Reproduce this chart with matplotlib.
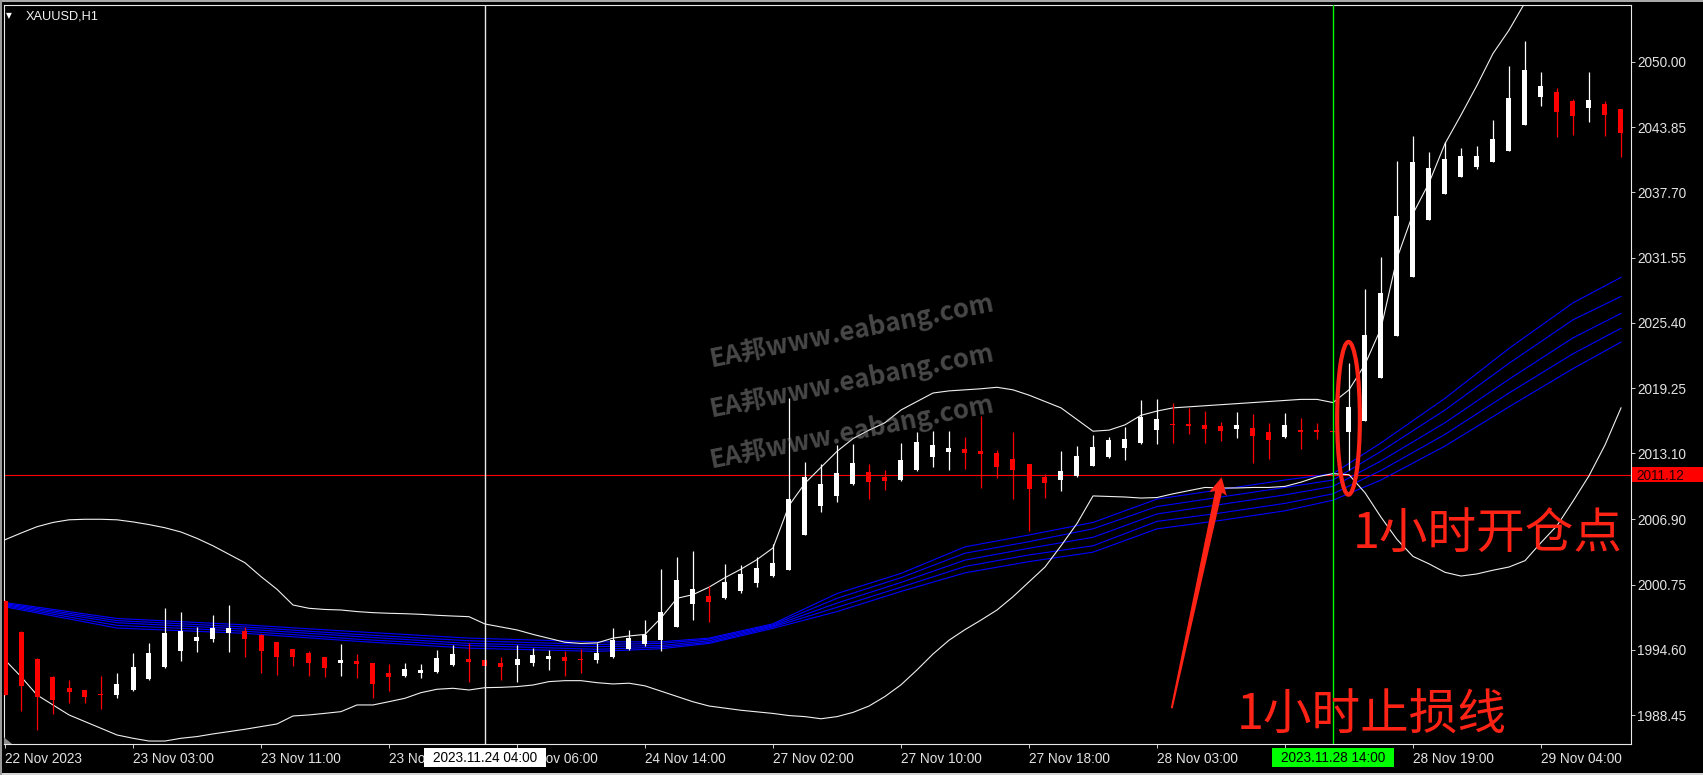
import numpy as np
import matplotlib
matplotlib.use('Agg')
import matplotlib.pyplot as plt
from matplotlib.patches import Ellipse, Polygon, Rectangle
from matplotlib.transforms import IdentityTransform, blended_transform_factory

W, H, DPI = 1703, 775, 100

# H1 candles, XAUUSD, 22 Nov 19:00 .. 29 Nov 08:00 (102 bars)
opens = [1999.23, 1996.31, 1993.73, 1992.04, 1991.03, 1990.81, 1990.40, 1990.34, 1990.81, 1991.85,
         1992.95, 1994.52, 1995.43, 1995.59, 1996.15, 1996.37, 1996.00, 1995.31, 1994.65, 1994.33,
         1993.89, 1993.33, 1993.55, 1993.33, 1992.38, 1992.16, 1992.45, 1992.54, 1993.17, 1993.74,
         1993.64, 1993.39, 1993.17, 1993.39, 1993.74, 1993.89, 1993.70, 1993.64, 1993.89, 1994.64,
         1995.14, 1995.52, 1996.71, 1998.91, 1999.67, 1999.45, 2000.17, 2000.87, 2001.56, 2002.12,
         2005.42, 2008.15, 2009.10, 2010.23, 2011.39, 2010.86, 2010.60, 2011.55, 2012.80, 2013.28,
         2013.50, 2013.34, 2013.12, 2012.58, 2012.11, 2010.92, 2010.60, 2010.98, 2011.96, 2012.74,
         2013.59, 2014.06, 2015.32, 2015.85, 2015.85, 2015.79, 2015.69, 2015.41, 2015.54, 2015.16,
         2014.68, 2015.31, 2015.31, 2015.20, 2015.15, 2016.19, 2020.24, 2024.17, 2029.76, 2035.10,
         2037.55, 2039.19, 2040.13, 2040.54, 2041.61, 2044.06, 2046.67, 2047.20, 2046.35, 2045.63,
         2046.04, 2045.54]
highs = [1999.30, 1996.40, 1993.80, 1992.10, 1991.75, 1990.85, 1992.13, 1992.38, 1994.33, 1995.21,
         1998.54, 1998.16, 1996.75, 1997.88, 1998.82, 1996.72, 1996.05, 1995.35, 1994.70, 1994.52,
         1993.95, 1995.12, 1994.21, 1993.40, 1993.26, 1993.39, 1993.23, 1994.58, 1995.05, 1995.21,
         1993.70, 1993.89, 1995.05, 1994.74, 1994.58, 1994.49, 1994.68, 1995.21, 1996.62, 1996.46,
         1997.41, 2002.21, 2003.37, 2003.91, 2000.61, 2002.69, 2002.59, 2003.38, 2004.54, 2018.30,
         2012.33, 2012.11, 2013.90, 2014.00, 2012.11, 2011.55, 2014.06, 2015.10, 2015.22, 2015.22,
         2014.63, 2016.64, 2013.43, 2015.16, 2012.15, 2011.14, 2013.34, 2013.81, 2014.85, 2014.69,
         2015.57, 2018.15, 2018.21, 2017.83, 2017.36, 2017.11, 2016.10, 2016.98, 2016.83, 2016.01,
         2016.88, 2016.41, 2015.94, 2015.30, 2021.60, 2028.57, 2031.65, 2040.66, 2043.02, 2041.55,
         2042.49, 2041.86, 2042.08, 2044.53, 2049.62, 2052.01, 2049.02, 2047.51, 2046.51, 2049.02,
         2046.32, 2045.60]
lows = [1990.30, 1988.86, 1987.04, 1988.55, 1989.62, 1989.62, 1989.02, 1990.09, 1990.75, 1991.75,
        1992.90, 1993.58, 1994.43, 1995.31, 1994.43, 1993.95, 1992.38, 1992.23, 1993.11, 1992.16,
        1992.07, 1992.16, 1991.97, 1990.03, 1990.75, 1992.07, 1991.97, 1992.45, 1993.07, 1991.60,
        1993.05, 1991.75, 1991.60, 1993.11, 1992.70, 1992.16, 1992.45, 1993.39, 1993.79, 1994.58,
        1994.95, 1994.51, 1996.71, 1997.41, 1997.25, 1999.36, 1999.99, 2000.55, 2001.49, 2002.12,
        2005.42, 2007.62, 2008.56, 2010.13, 2008.78, 2009.66, 2010.54, 2011.48, 2011.86, 2011.55,
        2011.61, 2009.82, 2010.76, 2008.78, 2005.83, 2008.88, 2009.60, 2010.92, 2011.92, 2012.65,
        2012.49, 2014.00, 2013.97, 2014.12, 2014.91, 2014.12, 2014.28, 2014.53, 2012.18, 2012.58,
        2014.53, 2013.49, 2014.43, 2015.00, 2011.54, 2016.19, 2020.18, 2024.17, 2029.76, 2035.10,
        2037.55, 2039.13, 2039.88, 2040.54, 2041.61, 2044.06, 2045.85, 2042.90, 2043.12, 2044.37,
        2043.05, 2041.01]
closes = [1990.34, 1991.19, 1990.18, 1989.87, 1990.62, 1990.12, 1990.31, 1991.38, 1992.95, 1994.27,
          1996.22, 1996.37, 1995.78, 1996.62, 1996.69, 1995.62, 1994.52, 1993.95, 1993.95, 1993.39,
          1992.85, 1993.64, 1993.23, 1991.38, 1992.01, 1992.76, 1992.70, 1993.80, 1994.21, 1993.48,
          1993.11, 1993.01, 1993.74, 1994.11, 1994.02, 1993.55, 1993.61, 1994.27, 1995.52, 1995.74,
          1995.99, 1998.13, 2001.17, 2000.33, 1999.13, 2001.02, 2001.75, 2002.34, 2002.81, 2008.81,
          2010.92, 2010.20, 2011.30, 2012.24, 2010.39, 2010.54, 2012.49, 2014.22, 2013.90, 2013.59,
          2013.18, 2013.02, 2011.86, 2011.55, 2009.73, 2010.35, 2011.45, 2012.90, 2013.75, 2014.38,
          2014.44, 2016.57, 2016.32, 2015.76, 2015.73, 2015.41, 2015.22, 2015.79, 2014.75, 2014.38,
          2015.78, 2015.12, 2015.12, 2015.10, 2017.45, 2024.27, 2028.19, 2035.48, 2040.54, 2039.97,
          2040.82, 2041.17, 2041.17, 2042.71, 2046.57, 2049.24, 2047.73, 2045.32, 2044.94, 2046.41,
          2045.00, 2043.27]

# Bollinger bands (upper / lower), one value per bar
upper_band = [2004.97, 2005.60, 2006.20, 2006.60, 2006.85, 2006.90, 2006.90, 2006.85, 2006.65, 2006.40,
              2006.10, 2005.70, 2005.10, 2004.40, 2003.60, 2002.80, 2001.50, 2000.30, 1998.82, 1998.51,
              1998.40, 1998.35, 1998.20, 1998.10, 1998.04, 1998.00, 1997.94, 1997.85, 1997.78, 1997.72,
              1997.03, 1996.75, 1996.47, 1996.05, 1995.68, 1995.31, 1995.20, 1995.25, 1995.70, 1995.90,
              1996.05, 1997.60, 1999.45, 1999.80, 2000.50, 2001.40, 2002.20, 2003.10, 2004.20, 2008.20,
              2010.30, 2011.80, 2013.30, 2014.50, 2015.30, 2016.00, 2017.20, 2018.00, 2018.80, 2019.00,
              2019.10, 2019.20, 2019.34, 2019.10, 2018.60, 2018.00, 2017.40, 2016.30, 2015.20, 2015.30,
              2015.80, 2016.70, 2017.10, 2017.40, 2017.50, 2017.60, 2017.70, 2017.80, 2017.90, 2018.00,
              2018.10, 2018.20, 2018.20, 2017.90, 2019.10, 2021.50, 2024.90, 2031.50, 2035.70, 2038.60,
              2042.30, 2045.00, 2047.80, 2050.80, 2053.00, 2055.60, 2058.00, 2060.00, 2061.50, 2062.50,
              2063.00, 2063.50]
lower_band = [1993.64, 1992.07, 1990.34, 1989.40, 1988.46, 1987.83, 1987.20, 1986.57, 1986.26, 1986.00,
              1986.00, 1986.26, 1986.42, 1986.67, 1986.89, 1987.11, 1987.36, 1987.61, 1988.36, 1988.46,
              1988.61, 1988.77, 1989.40, 1989.40, 1989.71, 1990.03, 1990.56, 1990.88, 1990.97, 1990.81,
              1991.03, 1991.06, 1991.13, 1991.28, 1991.60, 1991.69, 1991.69, 1991.50, 1991.38, 1991.45,
              1991.20, 1990.70, 1990.20, 1989.70, 1989.30, 1989.10, 1988.90, 1988.75, 1988.60, 1988.40,
              1988.30, 1988.10, 1988.30, 1988.70, 1989.30, 1990.20, 1991.30, 1992.70, 1994.20, 1995.50,
              1996.50, 1997.40, 1998.35, 1999.60, 2001.00, 2002.40, 2004.40, 2006.50, 2009.10, 2009.05,
              2009.00, 2008.90, 2008.95, 2009.30, 2009.60, 2009.90, 2009.85, 2009.85, 2009.90, 2009.90,
              2010.00, 2010.40, 2010.90, 2011.20, 2011.10, 2009.40, 2007.10, 2005.00, 2003.40, 2002.70,
              2001.90, 2001.55, 2001.75, 2002.10, 2002.40, 2003.00, 2004.70, 2006.30, 2008.60, 2011.00,
              2013.90, 2017.40]

# moving-average ribbon, read at these bars
ribbon_bars = [0, 7, 15, 22, 29, 37, 41, 44, 48, 52, 56, 60, 64, 68, 72, 76, 80, 83, 86, 90, 94, 98, 101]
ribbon_1 = [1999.05, 1997.55, 1996.95, 1996.30, 1995.70, 1995.35, 1995.35, 1995.70, 1997.05, 1999.90, 2001.80, 2004.30,
            2005.42, 2006.60, 2008.80, 2009.70, 2010.60, 2011.20, 2014.10, 2018.30, 2023.00, 2027.30, 2029.70]
ribbon_2 = [1998.95, 1997.35, 1996.75, 1996.05, 1995.45, 1995.10, 1995.20, 1995.60, 1996.95, 1999.45, 2001.40, 2003.70,
            2004.79, 2006.00, 2008.10, 2009.00, 2009.90, 2010.60, 2013.30, 2017.20, 2021.60, 2025.70, 2027.90]
ribbon_3 = [1998.85, 1997.15, 1996.55, 1995.85, 1995.20, 1994.90, 1995.00, 1995.45, 1996.85, 1999.00, 2000.95, 2003.05,
            2004.17, 2005.20, 2007.40, 2008.30, 2009.20, 2010.00, 2012.40, 2016.00, 2020.10, 2024.00, 2026.30]
ribbon_4 = [1998.75, 1996.90, 1996.35, 1995.60, 1995.00, 1994.65, 1994.85, 1995.30, 1996.75, 1998.60, 2000.50, 2002.45,
            2003.54, 2004.40, 2006.70, 2007.50, 2008.40, 2009.30, 2011.50, 2014.90, 2018.80, 2022.50, 2024.90]
ribbon_5 = [1998.65, 1996.65, 1996.15, 1995.40, 1994.75, 1994.45, 1994.70, 1995.20, 1996.62, 1998.20, 2000.10, 2001.85,
            2002.91, 2003.80, 2006.00, 2006.80, 2007.70, 2008.70, 2010.60, 2013.80, 2017.50, 2021.10, 2023.60]

price_ticks = [2050.00, 2043.85, 2037.70, 2031.55, 2025.40, 2019.25, 2013.10, 2006.90, 2000.75, 1994.60, 1988.45]
time_tick_bars = [0, 8, 16, 24, 32, 40, 48, 56, 64, 72, 80, 88, 96]
time_tick_labels = ['22 Nov 2023', '23 Nov 03:00', '23 Nov 11:00', '23 Nov 19:00', '24 Nov 06:00',
                    '24 Nov 14:00', '27 Nov 02:00', '27 Nov 10:00', '27 Nov 18:00', '28 Nov 03:00',
                    '28 Nov 11:00', '28 Nov 19:00', '29 Nov 04:00']

last_price = 2011.12
cross_bar, cross_label = 30, '2023.11.24 04:00'
entry_bar, entry_label = 83, '2023.11.28 14:00'

entry_text = '1小时开仓点'
stop_text = '1小时止损线'
watermark = 'EA邦www.eabang.com'

RED = '#ff2316'
AXIS_TXT = '#e2e2e2'
CJK = ['Noto Sans CJK SC', 'DejaVu Sans']
UI = 'Liberation Sans'

fig = plt.figure(figsize=(W / DPI, H / DPI), dpi=DPI, facecolor='black')
ax = fig.add_axes([4 / W, (H - 744) / H, (1631 - 4) / W, (744 - 5) / H])
ax.set_facecolor('black')
ax.set_xlim(-0.0625, 101.625)
ax.set_ylim(1985.72, 2055.37)

# indicators
x = np.arange(len(opens))
ax.plot(x, upper_band, color='#f0f0f0', lw=0.8, zorder=3)
ax.plot(x, lower_band, color='#f0f0f0', lw=0.8, zorder=3)
for line in [ribbon_1, ribbon_2, ribbon_3, ribbon_4, ribbon_5]:
    ax.plot(ribbon_bars, line, color='#0000ff', lw=0.8, zorder=2)

# candles
o = np.array(opens)
c = np.array(closes)
cols = np.where(c >= o, '#ffffff', '#ff0000')
ax.vlines(x, lows, highs, colors=cols, lw=0.9, zorder=4)
ax.bar(x, np.maximum(np.abs(c - o), 0.1), bottom=np.minimum(o, c), width=0.3125,
       color=cols, lw=0, zorder=5)

# price line and the two vertical markers
ax.axhline(last_price, color='#ff0000', lw=0.8, zorder=1.5)
ax.axvline(cross_bar, color='#e8e8e8', lw=1.0, zorder=6)
ax.axvline(entry_bar, color='#00ff00', lw=1.0, zorder=6)

# axes look
for s in ax.spines.values():
    s.set_color('#e8e8e8')
    s.set_linewidth(0.8)
ax.yaxis.tick_right()
ax.set_yticks(price_ticks)
ax.set_yticklabels([f'{v:.2f}' for v in price_ticks])
ax.set_xticks(time_tick_bars)
ax.set_xticklabels(time_tick_labels, ha='left')
ax.tick_params(axis='both', colors='#d0d0d0', labelcolor=AXIS_TXT, length=3, width=0.7, labelsize=9.8)
ax.tick_params(axis='x', pad=2.5)
ax.tick_params(axis='y', pad=1.5)
for t in ax.get_xticklabels() + ax.get_yticklabels():
    t.set_fontfamily(UI)

# last price box on the right scale
by = blended_transform_factory(ax.transAxes, ax.transData)
ax.add_patch(Rectangle((1.0006, last_price - 0.68), 0.044, 1.36, transform=by, clip_on=False,
                       fc='#ff0000', ec='none', zorder=10))
ax.text(1.0035, last_price, f'{last_price:.2f}', transform=by, clip_on=False, color='#200000',
        fontsize=9.8, family=UI, va='center_baseline', ha='left', zorder=11)

# time boxes under the vertical markers
bx = blended_transform_factory(ax.transData, ax.transAxes)
for bar, label, fc in [(cross_bar, cross_label, '#ffffff'), (entry_bar, entry_label, '#00ff00')]:
    ax.add_patch(Rectangle((bar - 3.84, -0.0311), 7.68, 0.0257, transform=bx, clip_on=False,
                           fc=fc, ec='none', zorder=10))
    ax.text(bar, -0.0185, label, transform=bx, clip_on=False, color='black', fontsize=9.8,
            family=UI, ha='center', va='center', zorder=11)

# chart header
fig.text(6 / W, 1 - 15.5 / H, '▼', color='white', fontsize=5.5, va='center')
fig.text(26 / W, 1 - 16.5 / H, 'XAUUSD,H1', color='#f2f2f2', fontsize=9.2, family=UI, va='center')

# window frame strips
fig.patches.append(Rectangle((0, 1 - 2 / H), 1, 2 / H, transform=fig.transFigure, fc='#a8a8a8', ec='none'))
fig.patches.append(Rectangle((0, 0), 1, 2.5 / H, transform=fig.transFigure, fc='#d4d4d4', ec='none'))
fig.patches.append(Rectangle((0, 0), 2 / W, 1, transform=fig.transFigure, fc='#9a9a9a', ec='none'))
ax.add_patch(Polygon([(0, 0), (0, 0.009), (0.005, 0)], closed=True, transform=ax.transAxes,
                     fc='#8a8a8a', ec='none', zorder=7))

# watermark
for wy in [367, 417, 468]:
    fig.text(711 / W, 1 - wy / H, watermark, rotation=11.3, rotation_mode='anchor',
             ha='left', va='baseline', fontsize=18.5, fontweight='bold', family=CJK,
             color='#a0a0a0', alpha=0.45, zorder=20)

# hand-drawn annotations
ax.add_patch(Ellipse((83.97, 2016.42), 1.42, 14.4, fill=False, ec=RED, lw=3.0, zorder=12))
ax.text(84.25, 2004.17, entry_text, color=RED, fontsize=35, family=CJK, ha='left', va='baseline', zorder=12)
ax.text(76.98, 1987.04, stop_text, color=RED, fontsize=35, family=CJK, ha='left', va='baseline', zorder=12)

tail = ax.transData.transform((72.92, 1989.09))
tip = ax.transData.transform((76.04, 2010.86))
u = (tip - tail) / np.hypot(*(tip - tail))
n = np.array([-u[1], u[0]])
base = tip - u * 15
pts = [tail + n * 1.0, base + n * 3.5, base + n * 9 - u * 2, tip,
       base - n * 9 - u * 2, base - n * 3.5, tail - n * 1.0]
ax.add_patch(Polygon(pts, closed=True, transform=IdentityTransform(), fc=RED, ec='none', zorder=12))

fig.savefig('out.png', dpi=DPI, facecolor='black')
